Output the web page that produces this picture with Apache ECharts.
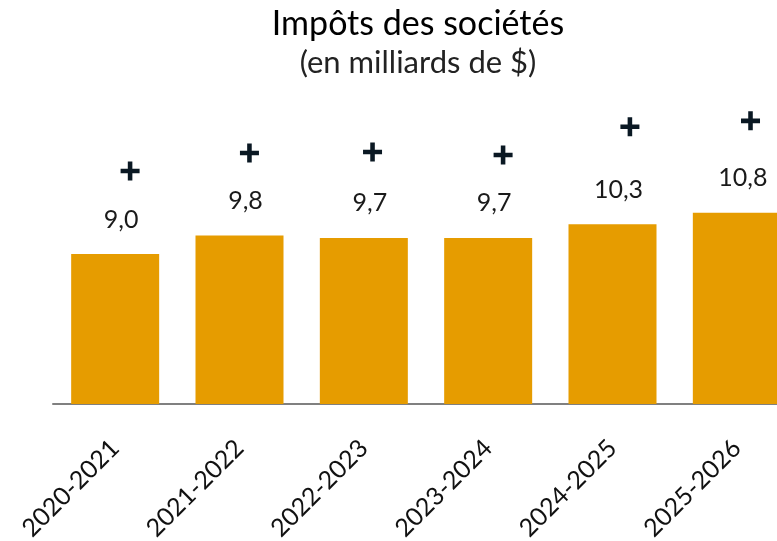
<!DOCTYPE html>
<html>
<head>
<meta charset="utf-8">
<script src="https://cdn.jsdelivr.net/npm/echarts@6/dist/echarts.min.js"></script>
<style>
  html, body { margin: 0; padding: 0; background: #fff; }
  #chart { width: 777px; height: 541px; }
</style>
</head>
<body>
<div id="chart"></div>
<script>
  // exercices financiers
  const categories = ["2020-2021", "2021-2022", "2022-2023", "2023-2024", "2024-2025", "2025-2026"];
  // impôts des sociétés, en milliards de $
  const values = [9.0, 9.8, 9.7, 9.7, 10.3, 10.8];
  // position des signes "+" (x en unités de catégorie, y en milliards)
  const plusX = [0.62, 1.58, 2.57, 3.62, 4.64, 5.61];
  const plusY = [12.62, 13.41, 13.45, 13.32, 14.55, 14.81];

  const font = "Lato";
  const chart = echarts.init(document.getElementById("chart"));

  const options = {
    animation: false,
    title: {
      text: "Impôts des sociétés",
      subtext: "(en milliards de $)",
      left: 413,
      top: 2,
      textAlign: "center",
      itemGap: 6,
      textStyle: { fontFamily: font, fontSize: 34, fontWeight: "normal", color: "#000" },
      subtextStyle: { fontFamily: font, fontSize: 31, color: "#222" }
    },
    // la dernière catégorie déborde à droite du cadre
    grid: { left: 53, right: -22, top: 100, bottom: 137, outerBoundsMode: "none", containLabel: false },
    xAxis: [
      {
        type: "category",
        data: categories,
        axisTick: { show: false },
        axisLine: { show: true, lineStyle: { color: "#808080", width: 2 } },
        axisLabel: {
          rotate: 45,
          margin: 40,
          interval: 0,
          fontFamily: font,
          fontSize: 25,
          color: "#111"
        }
      },
      { type: "value", min: 0, max: 6, show: false }
    ],
    yAxis: {
      type: "value",
      min: 2.45,
      max: 15.72,
      show: false,
      splitLine: { show: false }
    },
    series: [
      {
        type: "bar",
        data: values,
        barWidth: 88,
        itemStyle: { color: "#E69C00" },
        label: {
          show: true,
          position: "top",
          distance: 22,
          offset: [6, 0],
          fontFamily: font,
          fontSize: 25,
          color: "#1a1a1a",
          formatter: p => p.value.toFixed(1).replace(".", ",")
        }
      },
      {
        type: "scatter",
        xAxisIndex: 1,
        data: plusX.map((x, i) => [x, plusY[i]]),
        symbol: "path://M-1.2,-5h2.4v3.8h3.8v2.4h-3.8v3.8h-2.4v-3.8h-3.8v-2.4h3.8z",
        symbolSize: 19,
        itemStyle: { color: "#0a1823", opacity: 1 },
        silent: true
      }
    ]
  };

  chart.setOption(options);
</script>
</body>
</html>
